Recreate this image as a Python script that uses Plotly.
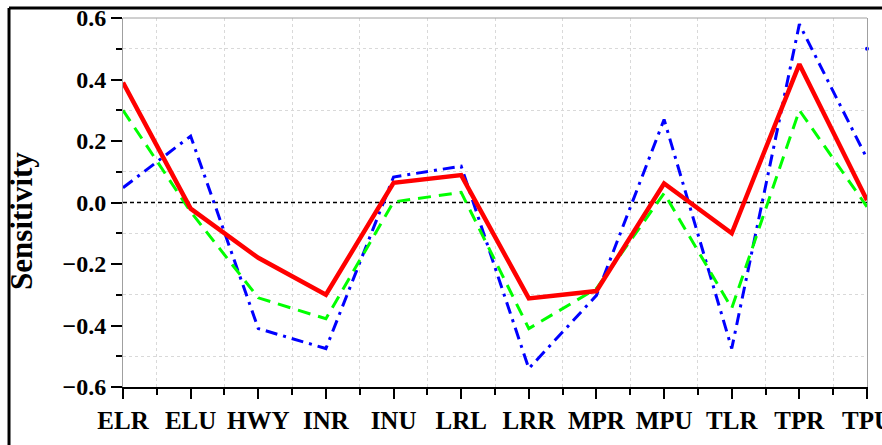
import plotly.graph_objects as go

categories = ["ELR", "ELU", "HWY", "INR", "INU", "LRL", "LRR", "MPR", "MPU", "TLR", "TPR", "TPU"]
red_values = [0.39, -0.02, -0.18, -0.30, 0.064, 0.089, -0.312, -0.288, 0.062, -0.10, 0.45, 0.007]
green_values = [0.30, -0.03, -0.31, -0.378, 0.002, 0.033, -0.41, -0.28, 0.03, -0.344, 0.30, -0.014]
blue_values = [0.048, 0.216, -0.41, -0.475, 0.083, 0.118, -0.54, -0.302, 0.27, -0.475, 0.58, 0.143]
extra_blue_point = [0.5]
y_major_ticks = [-0.6, -0.4, -0.2, 0.0, 0.2, 0.4, 0.6]
y_minor_ticks = [-0.5, -0.3, -0.1, 0.1, 0.3, 0.5]
y_title = "Sensitivity"

xpos = list(range(len(categories)))
x_minor = [i + 0.5 for i in range(len(categories) - 1)]

fig = go.Figure()
fig.add_trace(go.Scatter(x=xpos, y=blue_values, mode="lines",
                         line=dict(color="#0000ff", width=3, dash="12px,6px,3px,6px")))
fig.add_trace(go.Scatter(x=xpos, y=green_values, mode="lines",
                         line=dict(color="#00ff00", width=3, dash="13px,8px")))
fig.add_trace(go.Scatter(x=xpos, y=red_values, mode="lines",
                         line=dict(color="#ff0000", width=4.5)))
fig.add_trace(go.Scatter(x=[xpos[-1]], y=extra_blue_point, mode="markers",
                         marker=dict(color="#0000ff", size=4), cliponaxis=False))

fig.update_layout(
    width=882, height=445,
    margin=dict(l=123, r=15, t=18, b=58, autoexpand=False),
    paper_bgcolor="white", plot_bgcolor="white",
    showlegend=False,
    xaxis=dict(
        range=[0, 11], tickvals=xpos, ticktext=categories,
        showgrid=False, zeroline=False, automargin=False,
        showline=True, linecolor="black", linewidth=2,
        ticks="outside", ticklen=10, tickwidth=2, tickcolor="black",
        ticklabeloverflow="allow",
        tickfont=dict(family="Liberation Serif", size=25, color="black", weight="bold"),
        minor=dict(tickvals=x_minor, ticks="outside", ticklen=6, tickwidth=2, tickcolor="black",
                   showgrid=True, gridcolor="#d9d9d9", griddash="dot", gridwidth=1),
    ),
    yaxis=dict(
        range=[-0.6, 0.6], tickvals=y_major_ticks, tickformat=".1f",
        showgrid=False, zeroline=False, automargin=False,
        showline=True, linecolor="#a0a0a0", linewidth=1, mirror=True,
        ticks="outside", ticklen=11, tickwidth=2, tickcolor="black",
        ticklabeloverflow="allow",
        tickfont=dict(family="Liberation Serif", size=24, color="black", weight="bold"),
        minor=dict(tickvals=y_minor_ticks, ticks="outside", ticklen=6, tickwidth=2, tickcolor="black",
                   showgrid=True, gridcolor="#d9d9d9", griddash="dot", gridwidth=1),
    ),
    annotations=[
        dict(text=y_title, xref="paper", yref="paper", x=-0.1358, y=0.45,
             xanchor="center", yanchor="middle", textangle=-90, showarrow=False,
             font=dict(family="Liberation Serif", size=31, color="black", weight="bold")),
    ],
    shapes=[
        dict(type="line", xref="paper", yref="paper", x0=0, x1=1, y0=1, y1=1,
             line=dict(color="#a0a0a0", width=1)),
        dict(type="line", xref="paper", yref="y", x0=0, x1=1, y0=0, y1=0,
             line=dict(color="black", width=1.5, dash="4px,3px"), layer="below"),
        dict(type="line", xref="paper", yref="paper", x0=-0.1532, x1=1.2, y0=1.027, y1=1.027,
             line=dict(color="black", width=3)),
        dict(type="line", xref="paper", yref="paper", x0=-0.1532, x1=-0.1532, y0=-0.3, y1=1.027,
             line=dict(color="black", width=3)),
    ],
)

fig.write_html("out.html")
